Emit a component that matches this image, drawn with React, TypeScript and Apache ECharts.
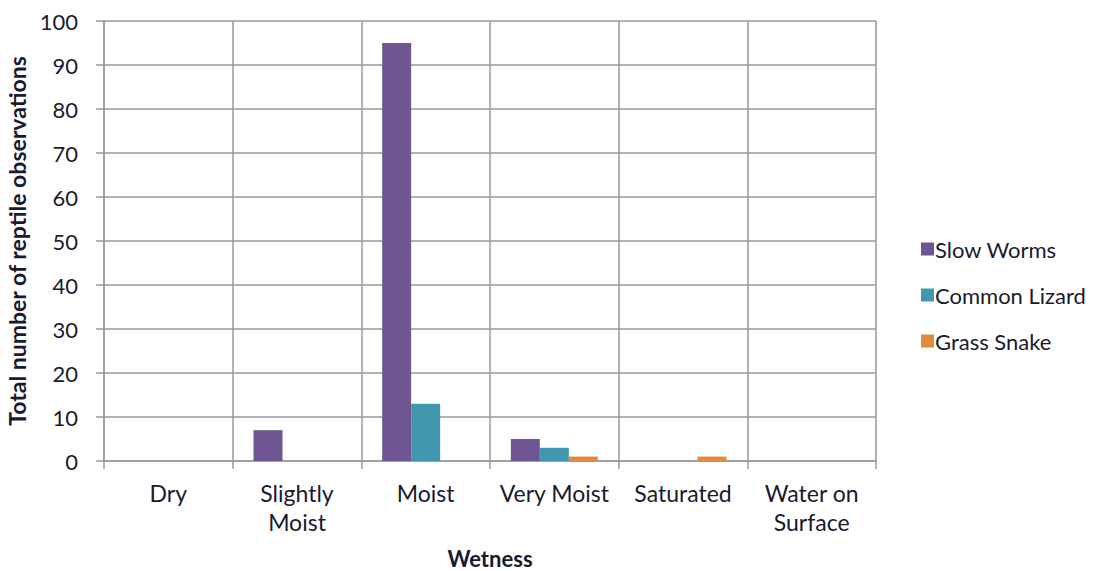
import React, { useEffect, useRef } from "react";
import * as echarts from "echarts";

const categories = ["Dry", "Slightly\nMoist", "Moist", "Very Moist", "Saturated", "Water on\nSurface"];
const slowWorms = [0, 7, 95, 5, 0, 0];
const commonLizard = [0, 0, 13, 3, 0, 0];
const grassSnake = [0, 0, 0, 1, 1, 0];
const seriesNames = ["Slow Worms", "Common Lizard", "Grass Snake"];
const colors = ["#6F5592", "#4198AE", "#E08A3C"];

const FONT = "Lato, 'Open Sans', sans-serif";
const TEXT = "#1a1a2e";

export default function App() {
  const ref = useRef<HTMLDivElement>(null);
  useEffect(() => {
    if (!ref.current) return;
    const chart = echarts.init(ref.current, undefined, { renderer: "svg" });
    const data = [slowWorms, commonLizard, grassSnake];
    chart.setOption({
      animation: false,
      backgroundColor: "#ffffff",
      textStyle: { fontFamily: FONT },
      grid: { left: 104, right: 223, top: 21, bottom: 110, containLabel: false, outerBoundsMode: "none" },
      legend: {
        orient: "vertical",
        left: 916,
        top: 233,
        itemWidth: 13,
        itemHeight: 13,
        itemGap: 24,
        icon: "rect",
        data: seriesNames,
        textStyle: { fontSize: 22, color: TEXT, fontFamily: FONT, padding: [0, 0, 6, -4] },
      },
      xAxis: {
        type: "category",
        data: categories,
        name: "Wetness",
        nameLocation: "middle",
        nameGap: 86,
        nameTextStyle: { fontSize: 22, lineHeight: 22, fontWeight: "bold", color: TEXT, fontFamily: FONT },
        axisLine: { show: true, lineStyle: { color: "#999999", width: 1.5 } },
        axisTick: { show: true, length: 8, lineStyle: { color: "#999999", width: 1.5 } },
        splitLine: { show: true, lineStyle: { color: "#999999", width: 1.5 } },
        axisLabel: { fontSize: 23, color: TEXT, margin: 17, lineHeight: 29, fontFamily: FONT, interval: 0 },
      },
      yAxis: {
        type: "value",
        min: 0,
        max: 100,
        interval: 10,
        name: "Total number of reptile observations",
        nameLocation: "middle",
        nameGap: 70,
        nameTextStyle: { fontSize: 23, fontWeight: "bold", color: TEXT, fontFamily: FONT },
        axisLine: { show: true, lineStyle: { color: "#999999", width: 1.5 } },
        axisTick: { show: true, length: 8, lineStyle: { color: "#999999", width: 1.5 } },
        splitLine: { show: true, lineStyle: { color: "#999999", width: 1.5 } },
        axisLabel: { fontSize: 22, color: TEXT, margin: 26, fontFamily: FONT },
      },
      series: seriesNames.map((n, i) => ({
        name: n,
        type: "bar",
        data: data[i],
        barWidth: 29,
        barGap: "0%",
        itemStyle: { color: colors[i] },
      })),
    });
    return () => chart.dispose();
  }, []);
  return <div ref={ref} style={{ width: 1099, height: 571, position: "absolute", left: 0, top: 0 }} />;
}
